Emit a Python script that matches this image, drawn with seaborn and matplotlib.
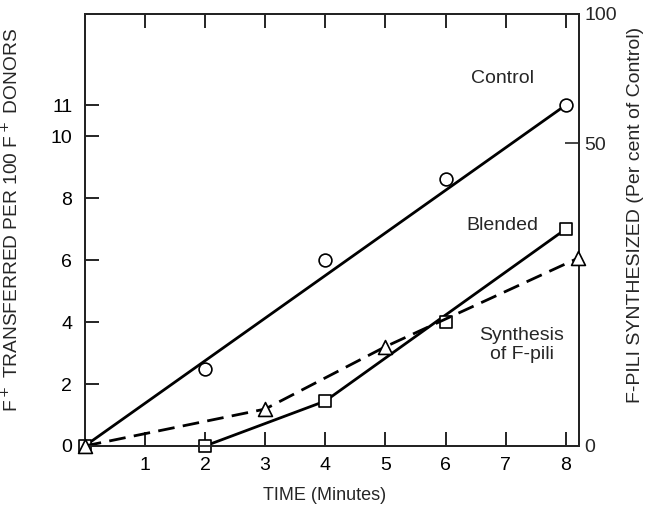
import numpy as np
import matplotlib
matplotlib.use("Agg")
import matplotlib.pyplot as plt
import seaborn as sns

# values
control_x = [2, 4, 6, 8]
control_y = [2.5, 6.0, 8.6, 11.0]
control_fit_x = [0, 8]
control_fit_y = [0, 11.0]

blended_x = [0, 2, 4, 6, 8]
blended_y = [0, 0, 1.45, 4.0, 7.0]
blended_line_x = [2, 4, 8]
blended_line_y = [0, 1.45, 7.0]

# F-pili synthesis, per cent of control (right axis)
pili_x = [0, 3, 5, 8.2]
pili_pct = [0, 6.1, 16.4, 31.0]

x_ticks = [1, 2, 3, 4, 5, 6, 7, 8]
y_ticks = [0, 2, 4, 6, 8, 10, 11]
right_ticks = [0, 50, 100]

# right axis of the original is not linear: 0-50 and 50-100 have different spans
right_pct_pts = [0, 50, 100]
right_left_pts = [0, 9.77, 13.94]

sns.set_style("ticks")
plt.rcParams["font.family"] = ["Liberation Sans Narrow", "Liberation Sans", "DejaVu Sans"]

fig = plt.figure(figsize=(6.52, 5.18), dpi=100)
ax = fig.add_axes([0.130, 0.139, 0.758, 0.834])

lw = 2.0
sns.lineplot(x=control_fit_x, y=control_fit_y, ax=ax, color="black", lw=lw, zorder=2)
sns.lineplot(x=blended_line_x, y=blended_line_y, ax=ax, color="black", lw=lw, zorder=2)
sns.scatterplot(x=control_x, y=control_y, ax=ax, marker="o", s=85, color="white",
                edgecolor="black", linewidth=1.2, zorder=4, clip_on=False)
sns.scatterplot(x=blended_x, y=blended_y, ax=ax, marker="s", s=85, color="white",
                edgecolor="black", linewidth=1.2, zorder=4, clip_on=False)

ax.set_xlim(0, 8.22)
ax.set_ylim(0, 13.94)
ax.set_xticks(x_ticks)
ax.set_yticks(y_ticks)
ax.tick_params(axis="both", direction="in", length=10, width=1.2, labelsize=14, pad=8,
               top=True, colors="black")
ax.tick_params(axis="y", pad=9)
for s in ax.spines.values():
    s.set_linewidth(1.3)
    s.set_color("black")

ax2 = ax.twinx()
fwd = lambda v: np.interp(v, right_pct_pts, right_left_pts)
inv = lambda v: np.interp(v, right_left_pts, right_pct_pts)
ax2.set_yscale("function", functions=(fwd, inv))
ax2.set_ylim(0, 100)
sns.lineplot(x=pili_x, y=pili_pct, ax=ax2, color="black", lw=lw,
             linestyle=(0, (6, 3)), zorder=2)
sns.scatterplot(x=pili_x, y=pili_pct, ax=ax2, marker="^", s=100, color="white",
                edgecolor="black", linewidth=1.2, zorder=4, clip_on=False)
ax2.set_xlim(0, 8.22)
ax2.set_yticks(right_ticks)
ax2.set_yticklabels([str(t) for t in right_ticks])
ax2.tick_params(axis="y", direction="in", length=10, width=1.2, labelsize=14, pad=4)
ax2.yaxis.set_minor_locator(matplotlib.ticker.NullLocator())
for s in ax2.spines.values():
    s.set_linewidth(1.3)

ax.text(6.95, 11.87, "Control", fontsize=14, ha="center", va="center")
ax.text(6.95, 7.13, "Blended", fontsize=14, ha="center", va="center")
ax.text(7.27, 3.27, "Synthesis\nof F-pili", fontsize=14, ha="center", va="center",
        linespacing=1.15)

ax.set_xlabel("TIME (Minutes)", fontsize=13)
ax.xaxis.set_label_coords(0.486, -0.095)
ax.set_ylabel("F$^+$ TRANSFERRED PER 100 F$^+$ DONORS", fontsize=13.8)
ax.yaxis.set_label_coords(-0.128, 0.523)
ax2.set_ylabel("F-PILI SYNTHESIZED (Per cent of Control)", fontsize=14, rotation=90)
ax2.yaxis.set_label_coords(1.098, 0.535)

fig.savefig("out.png", dpi=100)
